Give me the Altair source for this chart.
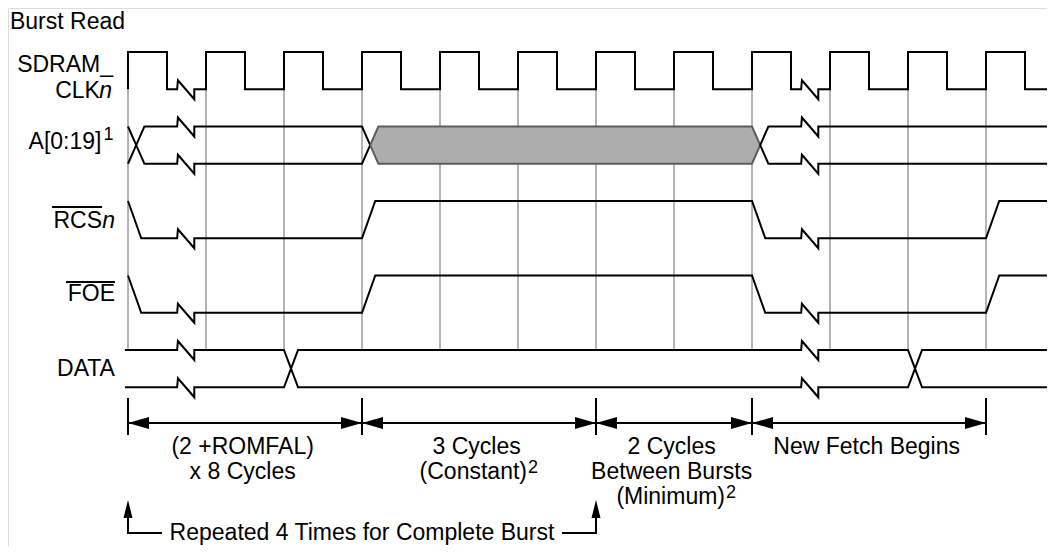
import altair as alt
import pandas as pd

# ---------------- values ----------------
# time is measured in SDRAM clock periods, t = 0 at the first rising edge
CLK_RISE = [0, 1, 2, 3, 4, 5, 6, 7, 8, 9, 10, 11]
CLK_FALL = [0.5, 1.5, 2.5, 3.5, 4.5, 5.5, 6.5, 7.5, 8.5, 9.5, 10.5, 11.5]
BREAK_START = [0.63, 8.63]
BREAK_END = [0.85, 8.85]

RCS_INIT = 1
RCS_EDGES = [0, 3, 8, 11]
RCS_LEVELS = [0, 1, 0, 1]
FOE_INIT = 1
FOE_EDGES = [0, 3, 8, 11]
FOE_LEVELS = [0, 1, 0, 1]

A_START = 0.0
A_TRANS = [0, 3, 8]
A_STATES = ["valid", "valid", "shaded", "valid"]

DATA_START = -0.04
DATA_TRANS = [2, 10]
DATA_STATES = ["valid", "valid", "valid"]

GRID_T = [0, 1, 2, 3, 4, 5, 6, 7, 8, 9, 10, 11]
DIM_T = [0, 3, 6, 8, 11]
DIM_LINES = [["(2 +ROMFAL)", "x 8 Cycles"],
             ["3 Cycles", "(Constant)"],
             ["2 Cycles", "Between Bursts", "(Minimum)"],
             ["New Fetch Begins"]]
DIM_NOTE = ["", "2", "2", ""]
REPEAT_T = [0, 6]
REPEAT_TEXT = "Repeated 4 Times for Complete Burst"
TITLE = "Burst Read"

# ---------------- layout ----------------
W, H = 1039, 538
X0, PER = 120.0, 78.0          # px of t=0, px per clock period
Y0, PITCH = 44.0, 74.5         # px of first row top, px per row
LEVEL_H = 0.5                  # signal swing in row units
T_END = (W - X0) / PER
UP, DN = 9 / PITCH, 10 / PITCH
CTRL_SLOPE, BUS_W, DATA_W = 0.17, 0.21, 0.18

xs = alt.Scale(domain=[-X0 / PER, (W - X0) / PER], nice=False, zero=False)
ys = alt.Scale(domain=[-Y0 / PITCH, (H - Y0) / PITCH], nice=False, zero=False, reverse=True)


def yl(row, level):
    return row + (1 - level) * LEVEL_H


def with_breaks(pts):
    out = [pts[0]]
    for (t0, y0), (t1, y1) in zip(pts[:-1], pts[1:]):
        if abs(y0 - y1) < 1e-9:
            for b0, b1 in zip(BREAK_START, BREAK_END):
                if t0 < b0 and b1 < t1:
                    out += [(b0, y0), (b0 + 0.01, y0 - UP), (b1, y0 + DN), (b1, y0)]
        out.append((t1, y1))
    return out


lines = []
seg_id = [0]


def add_line(pts, color="black", breaks=True):
    if breaks:
        pts = with_breaks(pts)
    for i, (t, y) in enumerate(pts):
        lines.append({"seg": seg_id[0], "i": i, "t": t, "y": y, "c": color})
    seg_id[0] += 1


def digital(row, init, edges, levels, slope, start=0.0):
    pts = [(start, yl(row, init))]
    cur = init
    for e, lv in zip(edges, levels):
        pts += [(e, yl(row, cur)), (e + slope, yl(row, lv))]
        cur = lv
    pts.append((T_END, yl(row, cur)))
    add_line(pts)


# clock
clk_edges = sorted([(t, 1) for t in CLK_RISE] + [(t, 0) for t in CLK_FALL])
digital(0, 0, [e for e, _ in clk_edges], [l for _, l in clk_edges], 0.0)
# control strobes
digital(2, RCS_INIT, RCS_EDGES, RCS_LEVELS, CTRL_SLOPE)
digital(3, FOE_INIT, FOE_EDGES, FOE_LEVELS, CTRL_SLOPE)

fills = []


def bus(row, start, trans, states, w):
    top, bot, mid = yl(row, 1), yl(row, 0), yl(row, 0.5)
    bounds = [None] + list(trans) + [None]
    for k, st in enumerate(states):
        left, right = bounds[k], bounds[k + 1]
        col = "#5c5c5c" if st == "shaded" else "black"
        for lev in (top, bot):
            if left is None:
                pts = [(start, lev)]
            else:
                pts = [(left + w / 2, mid), (left + w, lev)]
            if right is None:
                pts.append((T_END, lev))
            else:
                pts += [(right, lev), (right + w / 2, mid)]
            add_line(pts, col)
        if st == "shaded":
            fills.extend([
                {"t": left + w / 2, "y": mid, "y2": mid},
                {"t": left + w, "y": top, "y2": bot},
                {"t": right, "y": top, "y2": bot},
                {"t": right + w / 2, "y": mid, "y2": mid},
            ])


bus(1, A_START, A_TRANS, A_STATES, BUS_W)
bus(4, DATA_START, DATA_TRANS, DATA_STATES, DATA_W)

# dimension line
DIM_Y, TICK_TOP, TICK_BOT = 4.98, 4.644, 5.141
add_line([(DIM_T[0], DIM_Y), (DIM_T[-1], DIM_Y)], breaks=False)
for t in DIM_T:
    add_line([(t, TICK_TOP), (t, TICK_BOT)], breaks=False)

# repeat bracket
REP_Y, REP_TIP = 6.456, 6.013
add_line([(REPEAT_T[0], REP_TIP + 0.1), (REPEAT_T[0], REP_Y), (0.436, REP_Y)], breaks=False)
add_line([(5.564, REP_Y), (REPEAT_T[1], REP_Y), (REPEAT_T[1], REP_TIP + 0.1)], breaks=False)

# overlines of active-low names
add_line([(-0.974, 2.081), (-0.333, 2.081)], breaks=False)
add_line([(-0.795, 3.087), (-0.167, 3.087)], breaks=False)

df_lines = pd.DataFrame(lines)
df_fill = pd.DataFrame(fills)
df_grid = pd.DataFrame({"t": GRID_T, "y": [yl(0, 0)] * len(GRID_T), "y2": [4.0] * len(GRID_T)})

arrow_l = pd.DataFrame({"t": DIM_T[:-1], "y": [DIM_Y] * (len(DIM_T) - 1)})
arrow_r = pd.DataFrame({"t": DIM_T[1:], "y": [DIM_Y] * (len(DIM_T) - 1)})
arrow_u = pd.DataFrame({"t": REPEAT_T, "y": [REP_TIP] * len(REPEAT_T)})

# texts
FS = 23
txt_norm = []
txt_ital = []
txt_sup = []
txt_norm.append({"t": -1.513, "y": -0.40, "s": TITLE, "a": "left"})
txt_norm.append({"t": -0.192, "y": 0.181, "s": "SDRAM_", "a": "right"})
txt_norm.append({"t": -0.36, "y": 0.517, "s": "CLK", "a": "right"})
txt_ital.append({"t": -0.205, "y": 0.517, "s": "n", "a": "right"})
txt_norm.append({"t": -0.34, "y": 1.208, "s": "A[0:19]", "a": "right"})
txt_sup.append({"t": -0.314, "y": 1.114, "s": "1", "a": "left"})
txt_norm.append({"t": -0.333, "y": 2.262, "s": "RCS", "a": "right"})
txt_ital.append({"t": -0.167, "y": 2.262, "s": "n", "a": "right"})
txt_norm.append({"t": -0.167, "y": 3.248, "s": "FOE", "a": "right"})
txt_norm.append({"t": -0.167, "y": 4.255, "s": "DATA", "a": "right"})

LINE_Y = [5.302, 5.638, 5.973]
NOTE_RIGHT = [None, 5.115, 7.654, None]
for k, ls in enumerate(DIM_LINES):
    mid = (DIM_T[k] + DIM_T[k + 1]) / 2
    for j, s in enumerate(ls):
        if DIM_NOTE[k] and j == len(ls) - 1:
            txt_norm.append({"t": NOTE_RIGHT[k], "y": LINE_Y[j], "s": s, "a": "right"})
            txt_sup.append({"t": NOTE_RIGHT[k] + 0.013, "y": LINE_Y[j] - 0.05, "s": DIM_NOTE[k], "a": "left"})
        else:
            txt_norm.append({"t": mid - 0.03, "y": LINE_Y[j], "s": s, "a": "center"})
txt_norm.append({"t": 3.0, "y": REP_Y, "s": REPEAT_TEXT, "a": "center"})

X = alt.X("t:Q", scale=xs, axis=None)
Y = alt.Y("y:Q", scale=ys, axis=None)

grid = alt.Chart(df_grid).mark_rule(color="#b4b4b4", strokeWidth=2).encode(
    x=X, y=Y, y2="y2:Q")
fill = alt.Chart(df_fill).mark_area(color="#adadad", opacity=1).encode(
    x=X, y=Y, y2="y2:Q")
wave = alt.Chart(df_lines).mark_line(strokeWidth=2, strokeJoin="miter").encode(
    x=X, y=Y, detail="seg:N", order="i:Q", color=alt.Color("c:N", scale=None))

k_lr, k_u = 10.5, 9.0
al = alt.Chart(arrow_l).mark_point(shape="M0,0 L2,-0.57 L2,0.57 Z", filled=True, size=(2 * k_lr) ** 2,
                                   color="black", opacity=1, strokeWidth=0).encode(x=X, y=Y)
ar = alt.Chart(arrow_r).mark_point(shape="M0,0 L-2,-0.57 L-2,0.57 Z", filled=True, size=(2 * k_lr) ** 2,
                                   color="black", opacity=1, strokeWidth=0).encode(x=X, y=Y)
au = alt.Chart(arrow_u).mark_point(shape="M0,0 L-0.5,2 L0.5,2 Z", filled=True, size=(2 * k_u) ** 2,
                                   color="black", opacity=1, strokeWidth=0).encode(x=X, y=Y)


def text_layer(rows, size, style="normal"):
    layers = []
    df = pd.DataFrame(rows)
    for a in ["left", "center", "right"]:
        sub = df[df["a"] == a]
        if len(sub) == 0:
            continue
        layers.append(alt.Chart(sub).mark_text(align=a, baseline="middle", font="Liberation Sans",
                                               fontSize=size, fontStyle=style, color="black").encode(
            x=X, y=Y, text="s:N"))
    return layers


texts = text_layer(txt_norm, FS) + text_layer(txt_ital, FS, "italic") + text_layer(txt_sup, 18)

chart = alt.layer(grid, fill, wave, al, ar, au, *texts).properties(
    width=W, height=H, padding=0, autosize=alt.AutoSizeParams(type="none")
).configure_view(stroke="transparent", strokeWidth=0, strokeOpacity=0).configure(background="white")

chart.save("out.html", embed_options={"renderer": "svg", "actions": False})
